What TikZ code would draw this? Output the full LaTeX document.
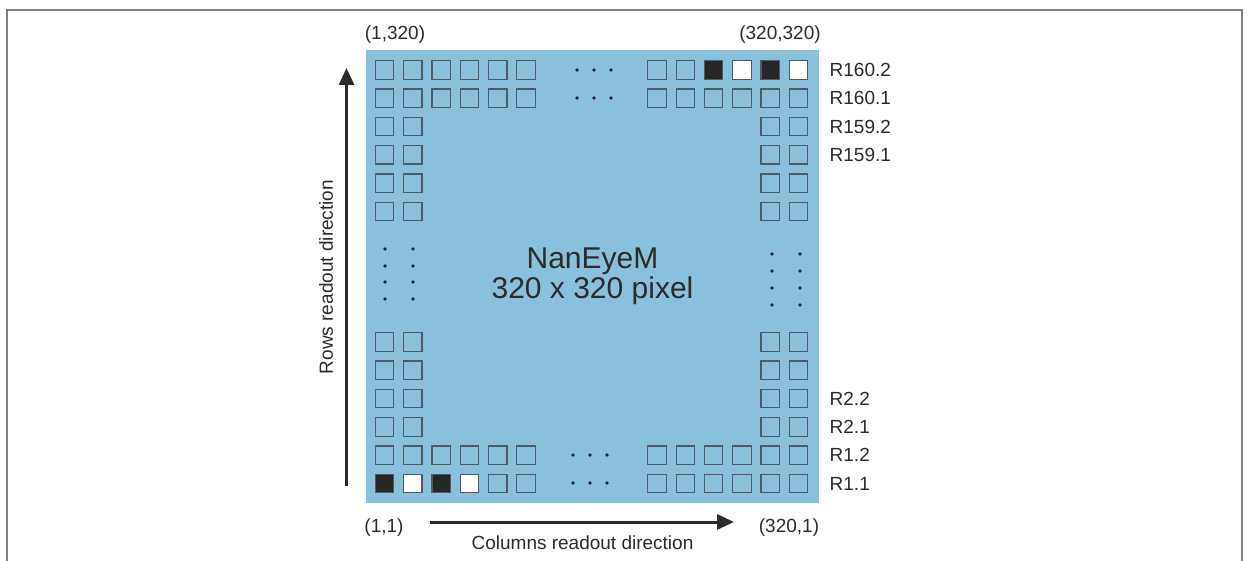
\documentclass[tikz,border=0pt]{standalone}
\usepackage{fontspec}
\setmainfont{Liberation Sans}
\usepackage{tikz}
\usetikzlibrary{arrows.meta, positioning}

\definecolor{sensorblue}{HTML}{89C0DB}
\definecolor{pixgray}{HTML}{4F5C64}
\definecolor{pixblack}{HTML}{262626}
\definecolor{textgray}{HTML}{2B2B2B}
\definecolor{framegray}{HTML}{808080}

\begin{document}
\begin{tikzpicture}[
  x=0.5pt, y=-0.5pt,
  chip/.style = {fill=sensorblue, minimum width=226.5pt, minimum height=226.5pt, inner sep=0pt, align=center, font=\fontsize{15}{15}\selectfont, text=textgray},
  pix/.style = {draw=pixgray, line width=0.6pt, minimum size=9.2pt, inner sep=0pt},
  pixon/.style = {pix, fill=pixblack},
  pixoff/.style = {pix, fill=white},
  lbl/.style = {font=\fontsize{9.5}{11}\selectfont, text=textgray, inner sep=0pt},
  dot/.style = {circle, fill=pixblack, minimum size=1.8pt, inner sep=0pt},
  arrow/.style = {line width=1.5pt, draw=textgray, -{Triangle[length=8.5pt, width=7.5pt]}}
]
\useasboundingbox (0,0) rectangle (1248,561);
\draw[framegray, line width=1pt] (7,561) -- (7,10) -- (1241.5,10) -- (1241.5,561);

\node[chip] (sensor) at (592.5,276.5) {NanEyeM\\320 x 320 pixel};

% full rows, top and bottom
\foreach \r in {0,1} {
  \foreach \c in {0,...,5} {
    \node[pix] (tl\r\c) at (384.5+28.3*\c, 70+28.3*\r) {};
    \node[pix] (br\r\c) at (798.5-28.3*\c, 483.5-28.3*\r) {};
  }
}
\foreach \c/\s in {0/pixoff,1/pixon,2/pixoff,3/pixon,4/pix,5/pix}
  \node[\s] (tr0\c) at (798.5-28.3*\c, 70) {};
\foreach \c in {0,...,5}
  \node[pix] (tr1\c) at (798.5-28.3*\c, 98.3) {};
\foreach \c/\s in {0/pixon,1/pixoff,2/pixon,3/pixoff,4/pix,5/pix}
  \node[\s] (bl0\c) at (384.5+28.3*\c, 483.5) {};
\foreach \c in {0,...,5}
  \node[pix] (bl1\c) at (384.5+28.3*\c, 455.2) {};

% edge columns
\foreach \r in {2,...,5} {
  \foreach \c in {0,1} {
    \node[pix] (tl\r\c) at (384.5+28.3*\c, 70+28.3*\r) {};
    \node[pix] (tr\r\c) at (798.5-28.3*\c, 70+28.3*\r) {};
    \node[pix] (bl\r\c) at (384.5+28.3*\c, 483.5-28.3*\r) {};
    \node[pix] (br\r\c) at (798.5-28.3*\c, 483.5-28.3*\r) {};
  }
}

% dots
\foreach \x in {577,594,611} {
  \node[dot] (td\x a) at (\x,70) {};
  \node[dot] (td\x b) at (\x,98) {};
}
\foreach \x in {573,590,607} {
  \node[dot] (bd\x a) at (\x,455) {};
  \node[dot] (bd\x b) at (\x,483) {};
}
\foreach \y in {249,266,282,299} {
  \node[dot] (ld\y a) at (385,\y) {};
  \node[dot] (ld\y b) at (413,\y) {};
}
\foreach \y in {254,271,288,305} {
  \node[dot] (rd\y a) at (772,\y) {};
  \node[dot] (rd\y b) at (800,\y) {};
}

% row labels
\node[lbl, right=10.5pt of tr00] (r1602) {R160.2};
\node[lbl, right=10.5pt of tr10] (r1601) {R160.1};
\node[lbl, right=10.5pt of tr20] (r1592) {R159.2};
\node[lbl, right=10.5pt of tr30] (r1591) {R159.1};
\node[lbl, right=10.5pt of br30] (r22) {R2.2};
\node[lbl, right=10.5pt of br20] (r21) {R2.1};
\node[lbl, right=10.5pt of br10] (r12) {R1.2};
\node[lbl, right=10.5pt of br00] (r11) {R1.1};

% corner coordinates
\node[lbl, anchor=base] (c1320) at (395,39.5) {(1,320)};
\node[lbl, anchor=base] (c320320) at (780,39.5) {(320,320)};
\node[lbl, anchor=base] (c11) at (384,532) {(1,1)};
\node[lbl, anchor=base] (c3201) at (789,532) {(320,1)};

% readout directions
\coordinate (colstart) at (430,522);
\coordinate (colend) at (734,522);
\coordinate (rowstart) at (346.5,486);
\coordinate (rowend) at (346.5,68);
\draw[arrow] (colstart) -- (colend);
\draw[arrow] (rowstart) -- (rowend);
\node[lbl] (coltext) at (582.5,542.5) {Columns readout direction};
\node[lbl, rotate=90] (rowtext) at (326,277) {Rows readout direction};
\end{tikzpicture}
\end{document}
